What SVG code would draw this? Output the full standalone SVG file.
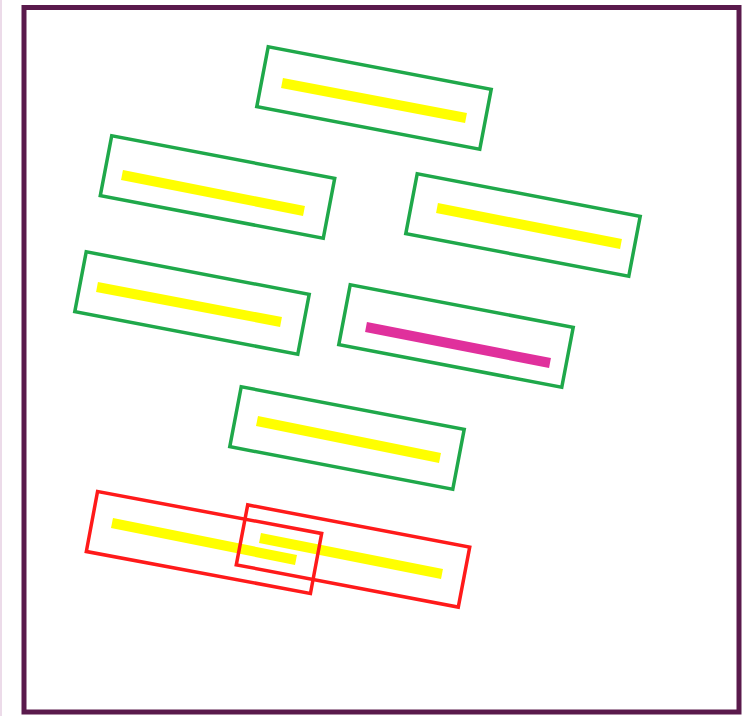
<svg xmlns="http://www.w3.org/2000/svg" width="753" height="716" viewBox="0 0 753 716">
<style>
.box{fill:none;stroke-width:3.5}
.g{stroke:#1fa84a}
.r{stroke:#ff1a1a}
.bar{stroke:#ffff00;stroke-width:10;stroke-linecap:butt}
.mag{stroke:#e0309c;stroke-width:10;stroke-linecap:butt}
</style>
<rect width="753" height="716" fill="#ffffff"/>
<line x1="1" y1="0" x2="1" y2="716" stroke="#e6cfe2" stroke-width="1.5"/>
<rect id="frame" x="24" y="7.5" width="715" height="704.5" fill="none" stroke="#5a1a4c" stroke-width="5"/>
<g id="node1"><line class="bar" x1="282" y1="83" x2="466" y2="118"/><rect class="box g" x="-113.5" y="-30.5" width="227" height="61" transform="translate(374,98) rotate(10.8)"/></g>
<g id="node2"><line class="bar" x1="122" y1="175" x2="304" y2="211"/><rect class="box g" x="-113.5" y="-30.5" width="227" height="61" transform="translate(217.5,187) rotate(10.8)"/></g>
<g id="node3"><line class="bar" x1="437" y1="208" x2="621" y2="244"/><rect class="box g" x="-113.5" y="-30.5" width="227" height="61" transform="translate(523,225) rotate(10.8)"/></g>
<g id="node4"><line class="bar" x1="97" y1="287" x2="281" y2="322"/><rect class="box g" x="-113.5" y="-30.5" width="227" height="61" transform="translate(192,303) rotate(10.8)"/></g>
<g id="node5"><line class="mag" x1="366" y1="327" x2="550" y2="363"/><rect class="box g" x="-113.5" y="-30.5" width="227" height="61" transform="translate(456,336) rotate(10.8)"/></g>
<g id="node6"><line class="bar" x1="257" y1="421" x2="440" y2="458"/><rect class="box g" x="-113.5" y="-30.5" width="227" height="61" transform="translate(347,438) rotate(10.8)"/></g>
<g id="red-pair">
<line class="bar" x1="112" y1="523" x2="296" y2="560"/>
<line class="bar" x1="260" y1="538" x2="442" y2="574"/>
<rect class="box r" x="-114" y="-30.5" width="228" height="61" transform="translate(204,542.5) rotate(10.6)"/>
<rect class="box r" x="-113" y="-30.5" width="226" height="61" transform="translate(353,556) rotate(10.8)"/>
</g>
<g id="connectors"></g>
</svg>
